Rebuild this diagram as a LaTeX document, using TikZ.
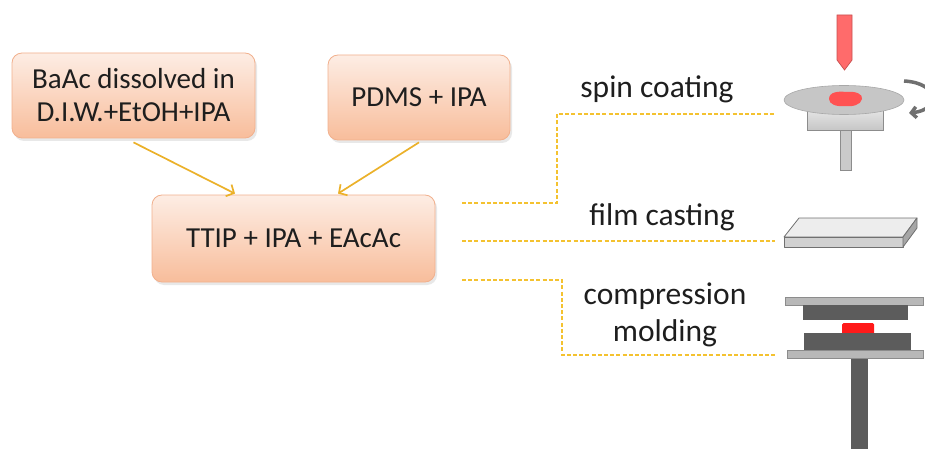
\documentclass[tikz,border=0pt]{standalone}
\usepackage{fontspec}
\setmainfont{Carlito}
\usetikzlibrary{arrows.meta,shadows,calc}

\definecolor{boxtop}{HTML}{FDEDE4}
\definecolor{boxbot}{HTML}{F8BD9B}
\definecolor{boxline}{HTML}{F1B08D}
\definecolor{flow}{HTML}{EBB12A}
\definecolor{route}{HTML}{F4C230}
\definecolor{ink}{HTML}{1E1E1E}
\definecolor{needle}{HTML}{FF6B6B}
\definecolor{needleedge}{HTML}{C85050}
\definecolor{drop}{HTML}{FF5252}
\definecolor{disk}{HTML}{C6C6C6}
\definecolor{metal}{HTML}{B8B8B8}
\definecolor{metaledge}{HTML}{8C8C8C}
\definecolor{darkmetal}{HTML}{5C5C5C}
\definecolor{sample}{HTML}{FF1A1A}
\definecolor{spinarrow}{HTML}{707070}

\tikzset{
  stagebox/.style={rectangle, rounded corners=10pt, draw=boxline, line width=0.8pt,
    top color=boxtop, bottom color=boxbot, align=center, text=ink, inner sep=0pt,
    font=\fontsize{29}{33}\selectfont,
    drop shadow={opacity=0.18, shadow xshift=2pt, shadow yshift=-3pt}},
  feed/.style={draw=flow, line width=1.7pt, -{Straight Barb[length=6pt,width=13pt]}},
  routeline/.style={draw=route, line width=1.6pt, dash pattern=on 4pt off 2.2pt},
  method/.style={text=ink, align=center, font=\fontsize{31.5}{36.5}\selectfont, inner sep=0pt},
}

\begin{document}
\begin{tikzpicture}[x=1pt,y=-1pt]
\useasboundingbox (0,0) rectangle (925,449);
\clip (0,0) rectangle (925,449);

% precursor solutions and the mixed sol
\node[stagebox, minimum width=243pt, minimum height=85pt] (baac) at (133.5,95.5)
  {BaAc dissolved in\\D.I.W.+EtOH+IPA};
\node[stagebox, minimum width=182pt, minimum height=85pt] (pdms) at (419,97.5)
  {PDMS + IPA};
\node[stagebox, minimum width=283pt, minimum height=87pt] (sol) at (293.5,238.5)
  {TTIP + IPA + EAcAc};

\draw[feed] ([yshift=-4pt]baac.south) -- ([xshift=-58.5pt,yshift=1pt]sol.north);
\draw[feed] ([yshift=-2pt]pdms.south) -- ([xshift=44.5pt,yshift=1pt]sol.north);

% processing routes
\coordinate (r1a) at (462,203);
\coordinate (r1b) at (557,203);
\coordinate (r1c) at (557,114);
\coordinate (r1d) at (775,114);
\coordinate (r2a) at (462,241);
\coordinate (r2b) at (775,241);
\coordinate (r3a) at (462,280);
\coordinate (r3b) at (562,280);
\coordinate (r3c) at (562,355);
\coordinate (r3d) at (775,355);
\draw[routeline] (r1a) -- (r1b) -- (r1c) -- (r1d);
\draw[routeline] (r2a) -- (r2b);
\draw[routeline] (r3a) -- (r3b) -- (r3c) -- (r3d);

\node[method, anchor=base] (spin) at (657,98) {spin coating};
\node[method, anchor=base] (cast) at (662,225) {film casting};
\node[method, anchor=base] (press) at (665,341) {compression\\molding};

% spin coater
\draw[metaledge, fill=metal!75, line width=0.6pt] (840,128) rectangle (851,170);
\shade[top color=white!92!black, bottom color=metal!80, draw=metaledge, line width=0.6pt]
  (807,106) rectangle (883,130);
\draw[fill=disk, draw=disk!85!black, line width=0.6pt] (844,100) ellipse [x radius=60, y radius=14.5];
\fill[drop] (829,99) .. controls (829,92) and (838,91) .. (846,92)
  .. controls (856,91) and (863,94) .. (862,99)
  .. controls (861,105) and (852,107) .. (845,106)
  .. controls (836,107) and (829,104) .. (829,99) -- cycle;
\draw[fill=needle, draw=needleedge, line width=0.7pt]
  (837,15) -- (852,15) -- (852,60) -- (844.5,70) -- (837,60) -- cycle;
\draw[spinarrow, line width=3.5pt, -{Straight Barb[length=5pt,width=11pt]}]
  (904,81) .. controls (940,83) and (940,110) .. (909,113);

% film casting slab
\draw[fill=white!93!black, draw=spinarrow, line width=0.8pt, line join=round]
  (784,237) -- (799,218) -- (917,218) -- (903,237) -- cycle;
\draw[fill=white!82!black, draw=spinarrow, line width=0.8pt, line join=round]
  (784,237) rectangle (903,247);
\draw[fill=white!65!black, draw=spinarrow, line width=0.8pt, line join=round]
  (903,237) -- (917,218) -- (917,228) -- (903,247) -- cycle;

% compression press
\draw[fill=darkmetal, draw=darkmetal] (851,358) rectangle (867,449);
\draw[fill=metal, draw=metaledge, line width=0.6pt] (785,297) rectangle (923,305);
\fill[darkmetal] (803,305) rectangle (908,320);
\fill[sample, rounded corners=1.5pt] (842,323) rectangle (874,336);
\fill[darkmetal] (804,333) rectangle (911,350);
\draw[fill=metal, draw=metaledge, line width=0.6pt] (787,350) rectangle (923,358);
\end{tikzpicture}
\end{document}
